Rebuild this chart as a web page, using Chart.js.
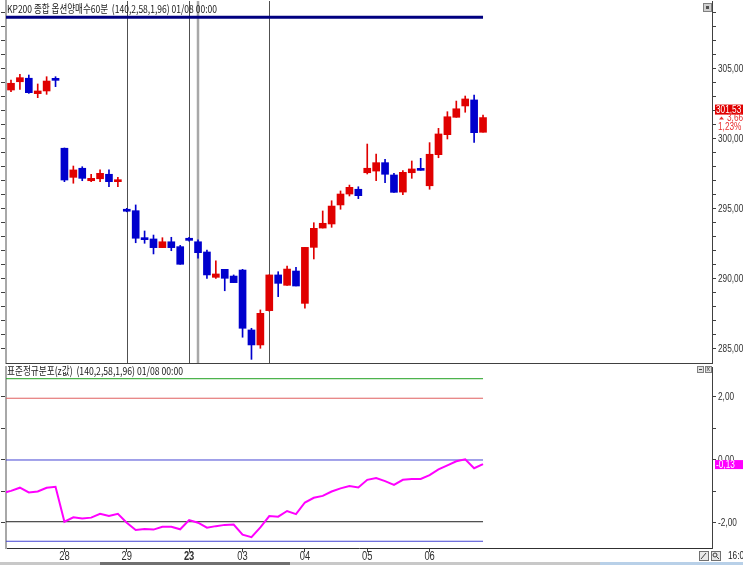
<!DOCTYPE html>
<html><head><meta charset="utf-8">
<script src="https://cdn.jsdelivr.net/npm/chart.js@4.4.1/dist/chart.umd.min.js"></script>
<style>
html,body{margin:0;padding:0;background:#fff;overflow:hidden}
#wrap{position:relative;width:743px;height:565px;background:#fff}
.pane{position:absolute;left:0;width:743px}
</style></head><body>
<div id="wrap">
<div class="pane" style="top:0;height:365px"><canvas id="c1" width="743" height="365"></canvas></div>
<div class="pane" style="top:365px;height:200px"><canvas id="c2" width="743" height="200"></canvas></div>
</div>
<script>
// ---------- data ----------
const openP  = [303.50,304.09,304.34,303.24,303.43,304.29,299.34,297.26,297.91,297.02,297.16,297.48,296.95,294.98,294.88,292.95,292.86,292.24,292.66,292.31,292.91,292.66,291.93,290.12,290.69,290.21,290.64,286.36,285.29,287.74,290.29,289.55,290.57,288.26,292.26,293.64,293.93,295.29,296.07,296.41,297.59,297.71,298.31,297.43,296.21,297.59,297.88,296.66,298.88,300.31,301.55,302.36,302.79,300.48];
const highP  = [304.21,304.62,304.57,303.93,304.45,304.45,299.36,298.07,298.02,297.48,297.79,297.79,297.26,295.05,295.29,293.43,293.14,292.95,292.98,292.40,292.98,292.79,292.07,291.29,290.69,290.29,290.69,286.48,287.79,290.30,290.52,290.93,290.83,292.26,294.02,294.86,295.59,296.29,296.71,296.59,299.64,298.93,298.55,297.55,297.74,298.43,298.62,299.74,300.76,301.95,302.71,303.07,303.14,301.71];
const lowP   = [303.38,303.55,303.26,302.95,303.19,303.74,296.95,296.84,297.02,296.95,296.95,296.59,296.59,294.80,292.59,292.55,291.79,292.24,292.02,291.05,292.70,291.48,290.05,290.05,289.16,289.74,285.84,284.26,285.05,287.70,288.74,289.55,289.50,287.91,291.43,293.64,293.69,294.98,295.93,295.74,297.50,297.02,296.88,296.19,296.02,297.19,297.76,296.41,298.66,300.00,301.55,301.91,299.76,300.48];
const closeP = [303.98,304.38,303.31,303.43,304.14,304.19,297.07,297.79,297.19,297.19,297.55,296.95,297.07,294.84,292.91,292.81,292.24,292.66,292.24,291.05,292.76,291.88,290.29,290.36,290.05,289.74,286.48,285.29,287.55,290.29,289.69,290.71,289.50,292.26,293.62,293.98,295.21,296.07,296.55,295.95,297.91,298.31,297.48,296.19,297.62,297.86,297.76,298.91,300.36,301.59,302.16,302.86,300.45,301.53];
// z-values, first value belongs to the bar before index 0
const zStartIdx = -1;
const zValues = [-1.05,-0.98,-0.88,-1.03,-1.00,-0.88,-0.85,-1.96,-1.82,-1.86,-1.83,-1.71,-1.78,-1.71,-1.99,-2.22,-2.19,-2.21,-2.12,-2.12,-2.20,-1.91,-1.99,-2.15,-2.10,-2.06,-2.05,-2.37,-2.45,-2.14,-1.78,-1.80,-1.62,-1.72,-1.35,-1.20,-1.14,-1.00,-0.90,-0.83,-0.87,-0.63,-0.57,-0.67,-0.79,-0.63,-0.60,-0.60,-0.48,-0.30,-0.17,-0.04,0.02,-0.26,-0.13];
const dayTickIdx    = [6,13,20,26,33,40,47];
const dayTickLabels = ['28','29','23','03','04','05','06'];
const boldTickIdx = 20;
const markerIdx = [13,20,29];
const markerIdxLight = [21];
const navyLevel = 308.7;
const bandLevels = [2.58, 1.96, 0, -1.96, -2.58];
const bandColors = ['#20a020','#e06060','#4444d4','#202020','#4444d4'];
const priceTickStep = 1, priceLabelStep = 5;
const priceTickFrom = 285, priceTickTo = 309;
const zTicks = [-2,-1,0,1,2];
const zLabelTicks = [-2,0,2];
const lastChange = '3,66', lastPct = '1,23%';
const title1 = 'KP200 종합 옵션양매수60분  (140,2,58,1,96) 01/08 00:00';
const title2 = '표준정규분포(z값)  (140,2,58,1,96) 01/08 00:00';

// axis ranges
const xMin = -0.5614, xMax = 78.71;
const pMin = 284.0, pMax = 309.857;
const zMin = -2.794, zMax = 2.952;

// ---------- helpers ----------
const RED = '#e00000', BLUE = '#0000cd';
const FONT = "'Liberation Sans',Arial,sans-serif";
const SQUEEZE = 0.75;
const fmt = v => v.toFixed(2).replace('.', ',');
const idx = closeP.map((_, i) => i);
const candleColors = idx.map(i => closeP[i] >= openP[i] ? RED : BLUE);
const lastIdx = closeP.length - 1;
const priceTickList = [];
for (let v = priceTickFrom; v <= priceTickTo; v += priceTickStep) priceTickList.push(v);

function noPad(s){ s.paddingTop = 0; s.paddingBottom = 0; s.paddingLeft = 0; s.paddingRight = 0; }
function narrowText(ctx, txt, x, y){
  const w = ctx.measureText(txt).width;
  ctx.fillText(txt, x, y, w * SQUEEZE);
}
// draws the right-axis tick labels of a scale with a narrow look
function drawAxisLabels(ctx, scale, shouldLabel){
  ctx.save();
  ctx.fillStyle = '#303030';
  ctx.font = '11px ' + FONT;
  ctx.textBaseline = 'middle';
  ctx.textAlign = 'left';
  scale.ticks.forEach(t => {
    if (!shouldLabel(t.value)) return;
    narrowText(ctx, fmt(t.value), scale.left + 6, scale.getPixelForValue(t.value));
  });
  ctx.restore();
}

// ---------- top chart ----------
const overlay1 = {
  id: 'overlay1',
  beforeDatasetsDraw(chart) {
    const {ctx, chartArea: a, scales: {x}} = chart;
    ctx.save();
    ctx.strokeStyle = '#505050'; ctx.lineWidth = 1;
    markerIdx.forEach(i => {
      const px = Math.round(x.getPixelForValue(i)) + 0.5;
      ctx.beginPath(); ctx.moveTo(px, a.top); ctx.lineTo(px, a.bottom); ctx.stroke();
    });
    ctx.strokeStyle = '#a8a8a8'; ctx.lineWidth = 2.5;
    markerIdxLight.forEach(i => {
      const px = Math.round(x.getPixelForValue(i));
      ctx.beginPath(); ctx.moveTo(px, a.top); ctx.lineTo(px, a.bottom); ctx.stroke();
    });
    ctx.restore();
  },
  afterDraw(chart) {
    const {ctx, chartArea: a, scales: {y}} = chart;
    drawAxisLabels(ctx, y, v => v % priceLabelStep === 0);
    ctx.save();
    // bottom frame of pane
    ctx.strokeStyle = '#404040'; ctx.lineWidth = 1;
    ctx.beginPath(); ctx.moveTo(a.left, a.bottom + 0.5); ctx.lineTo(a.right, a.bottom + 0.5); ctx.stroke();
    // title
    ctx.fillStyle = '#202020';
    ctx.font = "11px 'Noto Sans CJK KR', sans-serif";
    ctx.textBaseline = 'middle';
    ctx.fillText(title1, 7, 8.5, 210);
    // small button top right
    ctx.fillStyle = '#d0d0d0'; ctx.fillRect(703, 3, 9, 9);
    ctx.strokeStyle = '#808080'; ctx.strokeRect(703.5, 3.5, 8, 8);
    ctx.fillStyle = '#505050'; ctx.fillRect(706, 6, 3, 3);
    // last price box
    const py = y.getPixelForValue(closeP[lastIdx]);
    ctx.fillStyle = '#e00000';
    ctx.fillRect(715, py - 13, 28, 10);
    ctx.fillStyle = '#ffffff';
    ctx.font = '11px ' + FONT;
    ctx.textAlign = 'left';
    narrowText(ctx, fmt(closeP[lastIdx]), 716, py - 8);
    ctx.fillStyle = '#e83030';
    ctx.beginPath(); ctx.moveTo(719, py + 2); ctx.lineTo(724, py + 2); ctx.lineTo(721.5, py - 1); ctx.closePath(); ctx.fill();
    narrowText(ctx, lastChange, 727, py + 0.5);
    narrowText(ctx, lastPct, 718, py + 9.5);
    ctx.restore();
  }
};

new Chart(document.getElementById('c1'), {
  type: 'bar',
  data: {
    datasets: [
      { type: 'line', data: [{x: xMin, y: navyLevel}, {x: lastIdx, y: navyLevel}],
        borderColor: '#000080', borderWidth: 3, pointRadius: 0, xAxisID: 'x', yAxisID: 'y' },
      { data: idx.map(i => ({x: i, y: [openP[i], closeP[i]]})), backgroundColor: candleColors,
        borderWidth: 0, barThickness: 7, minBarLength: 2, grouped: false, xAxisID: 'x', yAxisID: 'y' },
      { data: idx.map(i => ({x: i, y: [lowP[i], highP[i]]})), backgroundColor: candleColors,
        borderWidth: 0, barThickness: 1, grouped: false, xAxisID: 'x', yAxisID: 'y' }
    ]
  },
  options: {
    responsive: false, animation: false, events: [],
    plugins: { legend: {display: false}, tooltip: {enabled: false} },
    layout: { padding: {top: 1, bottom: 2, left: 0, right: 0} },
    scales: {
      x: { type: 'linear', display: false, min: xMin, max: xMax, offset: false },
      y: { type: 'linear', position: 'right', min: pMin, max: pMax,
        afterBuildTicks: s => { s.ticks = priceTickList.map(v => ({value: v})); },
        afterFit: s => { s.width = 31; noPad(s); },
        ticks: { display: false, autoSkip: false },
        grid: { drawOnChartArea: false, tickLength: 4, color: '#404040', tickColor: '#404040' },
        border: { color: '#404040', width: 1 } },
      yl: { type: 'linear', position: 'left', min: pMin, max: pMax,
        afterBuildTicks: s => { s.ticks = priceTickList.map(v => ({value: v})); },
        afterFit: s => { s.width = 6; noPad(s); },
        ticks: { display: false },
        grid: { drawOnChartArea: false, tickLength: 5, color: '#404040', tickColor: '#404040' },
        border: { color: '#a8a8a8', width: 2 } }
    }
  },
  plugins: [overlay1]
});

// ---------- bottom chart ----------
const overlay2 = {
  id: 'overlay2',
  afterDraw(chart) {
    const {ctx, chartArea: a, scales: {x, y}} = chart;
    drawAxisLabels(ctx, y, v => zLabelTicks.includes(v));
    ctx.save();
    // x labels (narrow look)
    ctx.fillStyle = '#303030';
    ctx.textBaseline = 'middle';
    ctx.textAlign = 'center';
    x.ticks.forEach(t => {
      const k = dayTickIdx.indexOf(t.value);
      if (k < 0) return;
      ctx.font = (t.value === boldTickIdx ? 'bold ' : '') + '12px ' + FONT;
      const txt = dayTickLabels[k];
      ctx.fillText(txt, x.getPixelForValue(t.value), a.bottom + 9, ctx.measureText(txt).width * 0.78);
    });
    ctx.textAlign = 'left';
    ctx.fillStyle = '#202020';
    ctx.font = "11px 'Noto Sans CJK KR', sans-serif";
    ctx.fillText(title2, 7, 5.5, 176);
    // pane buttons
    ctx.strokeStyle = '#808080'; ctx.lineWidth = 1;
    ctx.fillStyle = '#e0e0e0';
    ctx.fillRect(697, 1, 7, 7); ctx.strokeRect(697.5, 1.5, 6, 6);
    ctx.fillRect(705, 1, 7, 7); ctx.strokeRect(705.5, 1.5, 6, 6);
    ctx.fillStyle = '#404040';
    ctx.fillRect(699, 4, 3, 1);
    ctx.font = "7px sans-serif"; ctx.fillText('x', 706.5, 4.5);
    // last z box
    const zy = y.getPixelForValue(zValues[zValues.length - 1]);
    ctx.fillStyle = '#ff00ff';
    ctx.fillRect(715, zy - 4, 28, 9);
    ctx.fillStyle = '#ffffff';
    ctx.font = '11px ' + FONT;
    narrowText(ctx, fmt(zValues[zValues.length - 1]), 716, zy + 0.5);
    // bottom-right tools
    ctx.strokeStyle = '#707070';
    ctx.fillStyle = '#e8e8e8';
    ctx.fillRect(699, 186, 9, 9); ctx.strokeRect(699.5, 186.5, 9, 9);
    ctx.fillRect(711, 186, 9, 9); ctx.strokeRect(711.5, 186.5, 9, 9);
    ctx.strokeStyle = '#404040';
    ctx.beginPath(); ctx.moveTo(701, 194); ctx.lineTo(706, 188); ctx.stroke();
    ctx.beginPath(); ctx.arc(715, 190, 2, 0, Math.PI * 2); ctx.stroke();
    ctx.beginPath(); ctx.moveTo(716.5, 191.5); ctx.lineTo(719, 194); ctx.stroke();
    ctx.fillStyle = '#202020';
    ctx.font = '11px ' + FONT;
    narrowText(ctx, '16:0', 728, 191);
    // scrollbar strip
    ctx.fillStyle = '#c8c8c8'; ctx.fillRect(0, 197, 600, 3);
    ctx.fillStyle = '#707070'; ctx.fillRect(100, 197, 190, 3);
    ctx.fillStyle = '#b8d0e8'; ctx.fillRect(600, 197, 143, 3);
    ctx.restore();
  }
};

const bandDatasets = bandLevels.map((lv, k) => ({
  data: [{x: xMin, y: lv}, {x: lastIdx, y: lv}],
  borderColor: bandColors[k], borderWidth: 1, pointRadius: 0, order: 2
}));

new Chart(document.getElementById('c2'), {
  type: 'line',
  data: {
    datasets: [
      { data: zValues.map((v, k) => ({x: k + zStartIdx, y: v})), borderColor: '#ff00ff',
        borderWidth: 2, pointRadius: 0, tension: 0, order: 1 },
      ...bandDatasets
    ]
  },
  options: {
    responsive: false, animation: false, events: [],
    plugins: { legend: {display: false}, tooltip: {enabled: false} },
    layout: { padding: {top: 2, bottom: 0, left: 0, right: 0} },
    scales: {
      x: { type: 'linear', min: xMin, max: xMax, offset: false,
        afterBuildTicks: s => { s.ticks = dayTickIdx.map(v => ({value: v})); },
        afterFit: s => { s.height = 17; noPad(s); },
        ticks: { display: false, autoSkip: false },
        grid: { drawOnChartArea: false, tickLength: 4, color: '#404040', tickColor: '#404040' },
        border: { color: '#303030', width: 1 } },
      y: { type: 'linear', position: 'right', min: zMin, max: zMax,
        afterBuildTicks: s => { s.ticks = zTicks.map(v => ({value: v})); },
        afterFit: s => { s.width = 31; noPad(s); },
        ticks: { display: false, autoSkip: false },
        grid: { drawOnChartArea: false, tickLength: 4, color: '#404040', tickColor: '#404040' },
        border: { color: '#404040', width: 1 } },
      yl: { type: 'linear', position: 'left', min: zMin, max: zMax,
        afterBuildTicks: s => { s.ticks = zTicks.map(v => ({value: v})); },
        afterFit: s => { s.width = 6; noPad(s); },
        ticks: { display: false },
        grid: { drawOnChartArea: false, tickLength: 5, color: '#404040', tickColor: '#404040' },
        border: { color: '#a8a8a8', width: 2 } }
    }
  },
  plugins: [overlay2]
});
</script>
</body></html>
